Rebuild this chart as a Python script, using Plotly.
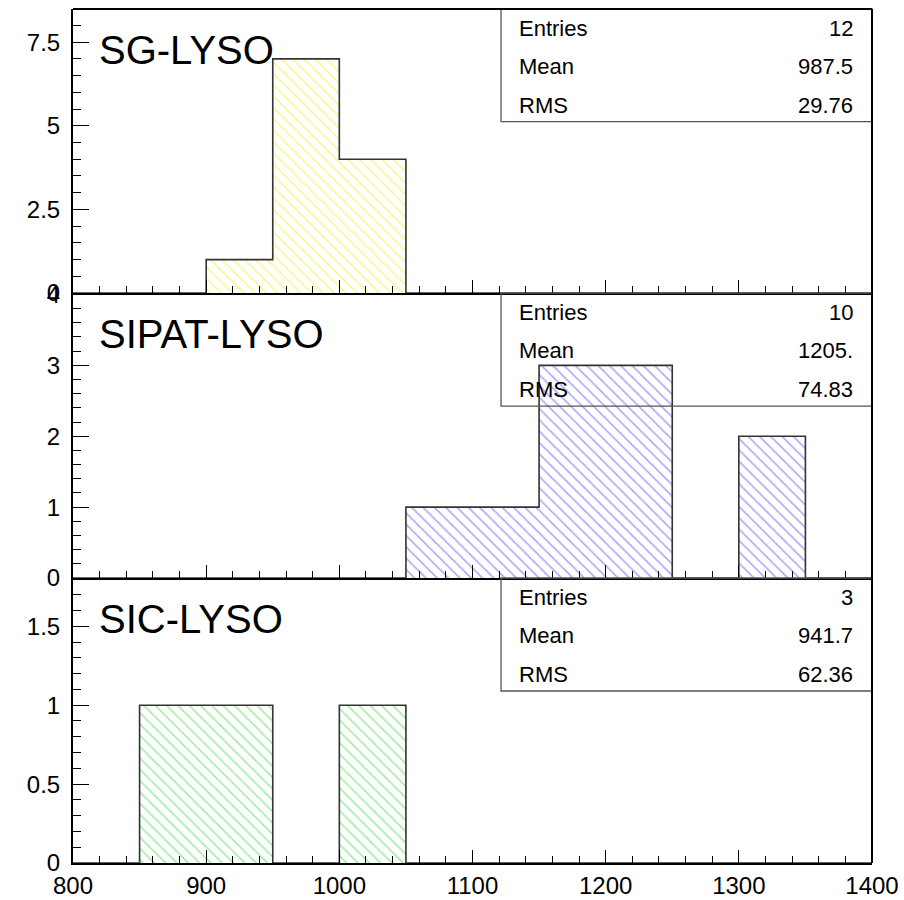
import math
import plotly.graph_objects as go

# Histogram binning: 12 bins of width 50 between 800 and 1400
bin_edges = [800, 850, 900, 950, 1000, 1050, 1100, 1150, 1200, 1250, 1300, 1350, 1400]

# Bin contents for each crystal vendor
sg_counts = [0, 0, 1, 7, 4, 0, 0, 0, 0, 0, 0, 0]
sipat_counts = [0, 0, 0, 0, 0, 1, 1, 3, 3, 0, 2, 0]
sic_counts = [0, 1, 1, 0, 1, 0, 0, 0, 0, 0, 0, 0]

panel_names = ["SG-LYSO", "SIPAT-LYSO", "SIC-LYSO"]
panel_counts = [sg_counts, sipat_counts, sic_counts]
hatch_colors = ["#eded2a", "#5656f0", "#48dc48"]

# y-axis settings per panel (top to bottom)
y_ranges = [[0, 8.49], [0, 4.02], [0, 1.806]]
y_dticks = [2.5, 1, 0.5]
y_minor = [0.5, 0.2, 0.1]

FONT = "Liberation Sans, Arial, Helvetica, sans-serif"

centers = [(a + b) / 2 for a, b in zip(bin_edges[:-1], bin_edges[1:])]
widths = [b - a for a, b in zip(bin_edges[:-1], bin_edges[1:])]


def stats(counts):
    n = sum(counts)
    mean = sum(c * x for c, x in zip(counts, centers)) / n
    rms = math.sqrt(sum(c * (x - mean) ** 2 for c, x in zip(counts, centers)) / n)
    return n, mean, rms


def fmt4(v):
    s = f"{v:.4g}"
    if "." not in s:
        s += "."
    return s


# panel domains (top edge of the first panel down to the bottom of the last)
bounds = [1.0, 0.6674, 0.3337, 0.0]

fig = go.Figure()

for i, (name, counts, col) in enumerate(zip(panel_names, panel_counts, hatch_colors)):
    k = i + 1
    xa = "x" if k == 1 else f"x{k}"
    ya = "y" if k == 1 else f"y{k}"

    fig.add_trace(go.Bar(
        x=centers, y=counts, width=widths,
        xaxis=xa, yaxis=ya,
        marker=dict(
            color="rgba(0,0,0,0)",
            line=dict(width=0),
            pattern=dict(shape="\\", fgcolor=col, bgcolor="rgba(0,0,0,0)",
                         size=8, solidity=0.2),
        ),
        showlegend=False, hoverinfo="skip",
    ))
    # histogram outline as a step line through the bin contents
    fig.add_trace(go.Scatter(
        x=bin_edges, y=counts + [0],
        xaxis=xa, yaxis=ya, mode="lines",
        line=dict(shape="hv", color="#333333", width=1.6),
        showlegend=False, hoverinfo="skip",
    ))

    dom = [bounds[i + 1], bounds[i]]
    fig.layout[f"xaxis{'' if k == 1 else k}"] = dict(
        range=[800, 1400], domain=[0, 1], anchor=ya,
        showline=True, linecolor="black", linewidth=2,
        ticks="inside", ticklen=13, tickwidth=1.3, tickcolor="black",
        dtick=100, tick0=800,
        minor=dict(ticks="inside", dtick=20, ticklen=7, tickwidth=1.3, tickcolor="black"),
        showgrid=False, zeroline=False,
        showticklabels=(k == 3),
        tickfont=dict(family=FONT, size=24, color="black"),
        automargin=False,
        matches=None if k == 1 else "x",
    )
    fig.layout[f"yaxis{'' if k == 1 else k}"] = dict(
        range=y_ranges[i], domain=dom, anchor=xa,
        showline=True, linecolor="black", linewidth=2,
        ticks="inside", ticklen=16, tickwidth=1.3, tickcolor="black",
        dtick=y_dticks[i], tick0=0,
        minor=dict(ticks="inside", dtick=y_minor[i], ticklen=8, tickwidth=1.3, tickcolor="black"),
        showgrid=False, zeroline=False,
        tickfont=dict(family=FONT, size=24, color="black"),
        ticklabelstandoff=6,
        automargin=False,
    )

    # vendor label
    fig.add_annotation(
        text=name, xref=f"{xa} domain", yref=f"{ya} domain",
        x=0.03, y=0.855, xanchor="left", yanchor="middle",
        showarrow=False, font=dict(family=FONT, size=40, color="black"),
    )

    # statistics box
    n, mean, rms = stats(counts)
    box_bottom = 1 - 113 / 285
    fig.add_shape(
        type="rect", xref=f"{xa} domain", yref=f"{ya} domain",
        x0=0.5357, x1=1.0, y0=box_bottom, y1=1.0,
        line=dict(color="#555555", width=1.3), fillcolor="rgba(0,0,0,0)",
        layer="above",
    )
    rows = [("Entries", str(n)), ("Mean", fmt4(mean)), ("RMS", fmt4(rms))]
    row_y = [0.932, 0.797, 0.662]
    for (lab, val), yy in zip(rows, row_y):
        fig.add_annotation(
            text=lab, xref=f"{xa} domain", yref=f"{ya} domain",
            x=0.5557, y=yy, xanchor="left", yanchor="middle", showarrow=False,
            font=dict(family=FONT, size=22, color="black"),
        )
        fig.add_annotation(
            text=val, xref=f"{xa} domain", yref=f"{ya} domain",
            x=0.979, y=yy, xanchor="right", yanchor="middle", showarrow=False,
            font=dict(family=FONT, size=22, color="black"),
        )

# outer frame (top and right edges)
fig.add_shape(type="line", xref="paper", yref="paper", x0=0, x1=1, y0=1, y1=1,
              line=dict(color="black", width=2), layer="above")
fig.add_shape(type="line", xref="paper", yref="paper", x0=1, x1=1, y0=0, y1=1,
              line=dict(color="black", width=2), layer="above")

fig.update_layout(
    width=904, height=900,
    margin=dict(l=73, r=32, t=9, b=37, autoexpand=False),
    paper_bgcolor="white", plot_bgcolor="white",
    barmode="overlay", bargap=0,
    showlegend=False,
)

fig.write_html("out.html")
